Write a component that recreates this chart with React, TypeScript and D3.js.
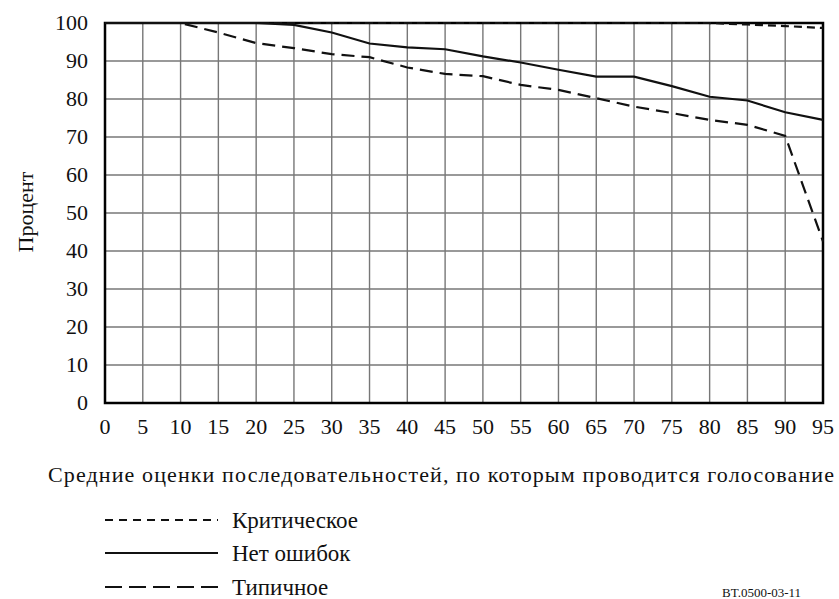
import React from "react";
import * as d3 from "d3";

const xValues = [0, 5, 10, 15, 20, 25, 30, 35, 40, 45, 50, 55, 60, 65, 70, 75, 80, 85, 90, 95];
const critical = [100, 100, 100, 100, 100, 100, 100, 100, 100, 100, 100, 100, 100, 100, 100, 100, 100, 99.6, 99.2, 98.7];
const noErrors = [100, 100, 100, 100, 100, 99.5, 97.5, 94.6, 93.6, 93.1, 91.2, 89.6, 87.7, 85.9, 85.9, 83.4, 80.6, 79.6, 76.5, 74.5];
const typical = [100, 100, 100, 97.5, 94.7, 93.4, 91.8, 91.0, 88.3, 86.6, 86.0, 83.7, 82.4, 80.2, 78.0, 76.3, 74.5, 73.2, 70.3, 42.5];
const yTicks = [0, 10, 20, 30, 40, 50, 60, 70, 80, 90, 100];
const seriesNames = ["Критическое", "Нет ошибок", "Типичное"];
const xTitle = "Средние оценки последовательностей, по которым проводится голосование";
const yTitle = "Процент";
const figId = "BT.0500-03-11";

const W = 839;
const H = 599;
const left = 105, right = 823, top = 23, bottom = 403;
const fontStyle = { fontFamily: '"Liberation Serif", Tinos, "Times New Roman", "DejaVu Serif", serif' };

export default function App() {
  const x = d3.scaleLinear().domain([0, 95]).range([left, right]);
  const y = d3.scaleLinear().domain([0, 100]).range([bottom, top]);
  const line = d3.line<number>().x((_, i) => x(xValues[i])).y((d) => y(d));

  const styles = [
    { data: critical, dash: "8,5" },
    { data: noErrors, dash: "none" },
    { data: typical, dash: "13,7" },
  ];
  const legendDash = ["8,6", "none", "17,7"];
  const legendY = [520, 553, 587];

  return (
    <svg width={W} height={H} style={{ position: "absolute", left: 0, top: 0, background: "#fff" }}>
      <rect x={0} y={0} width={W} height={H} fill="#fff" />
      {xValues.map((v) => (
        <line key={"gx" + v} x1={x(v)} x2={x(v)} y1={top} y2={bottom} stroke="#777" strokeWidth={1.4} />
      ))}
      {yTicks.map((v) => (
        <line key={"gy" + v} x1={left} x2={right} y1={y(v)} y2={y(v)} stroke="#777" strokeWidth={1.4} />
      ))}
      <rect x={left} y={top} width={right - left} height={bottom - top} fill="none" stroke="#000" strokeWidth={2.5} />
      {styles.map((s, i) => (
        <path key={"s" + i} d={line(s.data) || ""} fill="none" stroke="#111" strokeWidth={2.2} strokeDasharray={s.dash} />
      ))}
      {yTicks.map((v) => (
        <text key={"ty" + v} style={fontStyle} x={88} y={y(v) + 7} textAnchor="end" fontSize={22} fill="#111">{v}</text>
      ))}
      {xValues.map((v) => (
        <text key={"tx" + v} style={fontStyle} x={x(v)} y={434} textAnchor="middle" fontSize={22} fill="#111">{v}</text>
      ))}
      <text style={fontStyle} transform={`translate(33,212) rotate(-90)`} textAnchor="middle" fontSize={22} fill="#111">{yTitle}</text>
      <text style={fontStyle} x={48} y={482} fontSize={22} textLength={786} lengthAdjust="spacing" fill="#111">{xTitle}</text>
      {seriesNames.map((n, i) => (
        <g key={"l" + i}>
          <line x1={105} x2={218} y1={legendY[i]} y2={legendY[i]} stroke="#111" strokeWidth={2.2} strokeDasharray={legendDash[i]} />
          <text style={fontStyle} x={232} y={legendY[i] + 8} fontSize={23} fill="#111">{n}</text>
        </g>
      ))}
      <text style={fontStyle} x={722} y={597} fontSize={13} fill="#111">{figId}</text>
    </svg>
  );
}
